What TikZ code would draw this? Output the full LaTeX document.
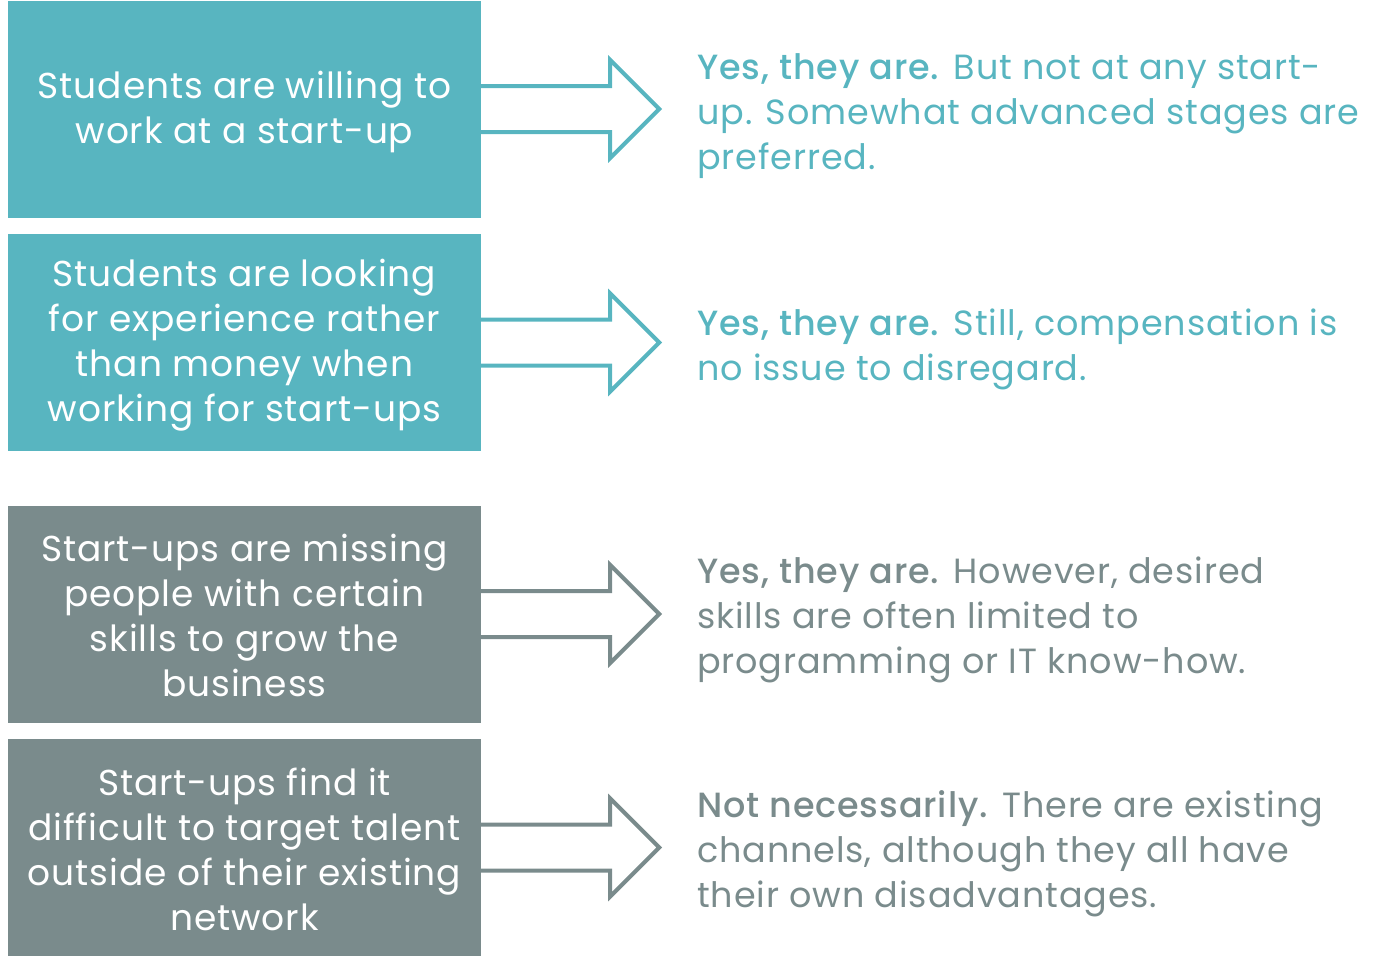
\documentclass[tikz,border=0pt]{standalone}
\usepackage{fontspec}
\setmainfont{Poppins}[LetterSpace=2.5, BoldFont={Poppins Medium}, BoldFeatures={LetterSpace=2.5}]
\usetikzlibrary{calc}
\definecolor{teal}{HTML}{58B5C0}
\definecolor{slate}{HTML}{7A8B8C}
\tikzset{
  box/.style={minimum width=473pt, minimum height=217pt, inner sep=0pt},
  tealbox/.style={box, fill=teal},
  greybox/.style={box, fill=slate},
  boxtext/.style={inner sep=0pt, text=white, align=center, font=\fontsize{36}{45}\selectfont},
  answer/.style={anchor=west, inner sep=0pt, align=left, font=\fontsize{35}{45}\selectfont},
  outarrow/.style={line width=4pt, miter limit=10},
}
\newcommand{\outlinearrow}[2]{%
  \draw[outarrow, #2] ($(#1.east)+(0,-23)$) -- ++(129,0) -- ++(0,-26) -- ++(49,49) -- ++(-49,49) -- ++(0,-26) -- ($(#1.east)+(0,23)$);}
\begin{document}
\begin{tikzpicture}[x=1pt,y=-1pt]
\useasboundingbox (0,0) rectangle (1393,961);
\node[tealbox] (b1) at (244.5,109) {};
\node[tealbox] (b2) at (244.5,342.5) {};
\node[greybox] (b3) at (244.5,614) {};
\node[greybox] (b4) at (244.5,847.5) {};
\node[boxtext] (t1) at ($(b1.center)+(0,3)$) {Students are willing to\\work at a start-up};
\node[boxtext] (t2) at ($(b2.center)+(0,2.5)$) {Students are looking\\for experience rather\\than money when\\working for start-ups};
\node[boxtext] (t3) at ($(b3.center)+(0,1.5)$) {Start-ups are missing\\people with certain\\skills to grow the\\business};
\node[boxtext] (t4) at ($(b4.center)+(0,1.5)$) {Start-ups find it\\difficult to target talent\\outside of their existing\\network};
\node[answer, text=teal] (a1) at (697,116) {\textbf{Yes, they are.} But not at any start-\\up. Somewhat advanced stages are\\preferred.};
\node[answer, text=teal] (a2) at (697,349) {\textbf{Yes, they are.} Still, compensation is\\no issue to disregard.};
\node[answer, text=slate] (a3) at (697,620) {\textbf{Yes, they are.} However, desired\\skills are often limited to\\programming or IT know-how.};
\node[answer, text=slate] (a4) at (697,854) {\textbf{Not necessarily.} There are existing\\channels, although they all have\\their own disadvantages.};
\outlinearrow{b1}{draw=teal}
\outlinearrow{b2}{draw=teal}
\outlinearrow{b3}{draw=slate}
\outlinearrow{b4}{draw=slate}
\end{tikzpicture}
\end{document}
